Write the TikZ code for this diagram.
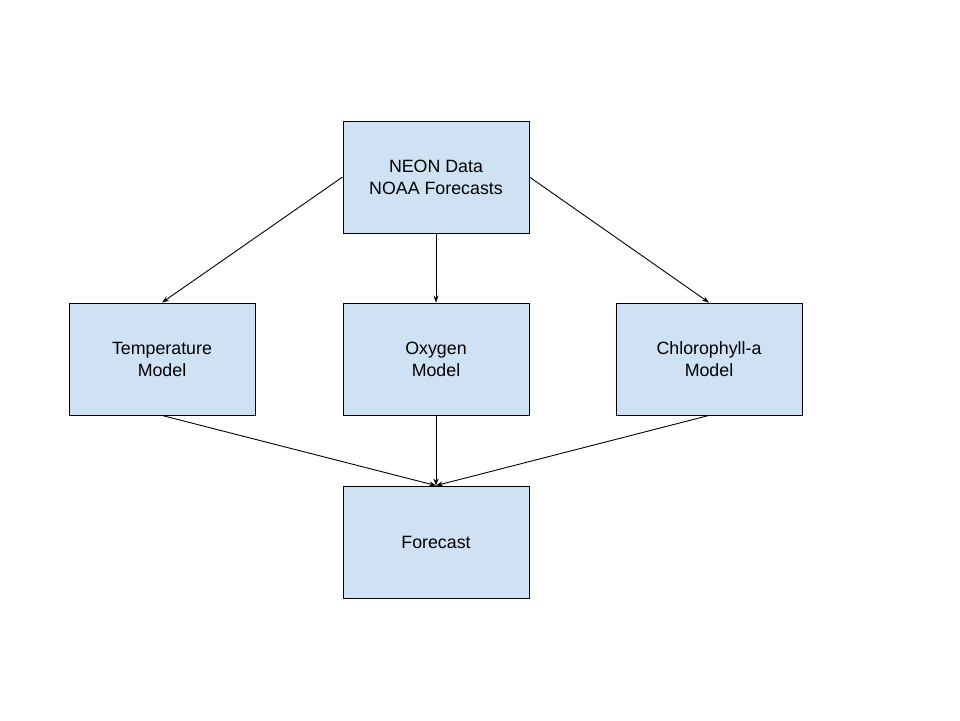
\documentclass[tikz,border=0pt]{standalone}
\usepackage{fontspec}
\setmainfont{Liberation Sans}
\usetikzlibrary{arrows.meta}
\definecolor{boxfill}{HTML}{CFE2F3}
\begin{document}
\begin{tikzpicture}[x=1pt,y=-1pt,
  box/.style={draw=black,line width=0.9pt,fill=boxfill,minimum width=186pt,minimum height=112pt,inner sep=0pt,align=center,font=\fontsize{17.8}{22}\selectfont},
  conn/.style={draw=black,line width=0.9pt,-{Stealth[length=7pt,width=5pt]}}]
\useasboundingbox (0,0) rectangle (960,720);
\node[box] (data) at (436,177) {NEON Data\\NOAA Forecasts};
\node[box] (temp) at (162,359) {Temperature\\Model};
\node[box] (oxy) at (436,359) {Oxygen\\Model};
\node[box] (chl) at (709,359) {Chlorophyll-a\\Model};
\node[box] (fc) at (436,542) {Forecast};
\draw[conn] (data.west) -- (temp.north);
\draw[conn] (data.south) -- (oxy.north);
\draw[conn] (data.east) -- (chl.north);
\draw[conn] (temp.south) -- (fc.north);
\draw[conn] (oxy.south) -- (fc.north);
\draw[conn] (chl.south) -- (fc.north);
\end{tikzpicture}
\end{document}
